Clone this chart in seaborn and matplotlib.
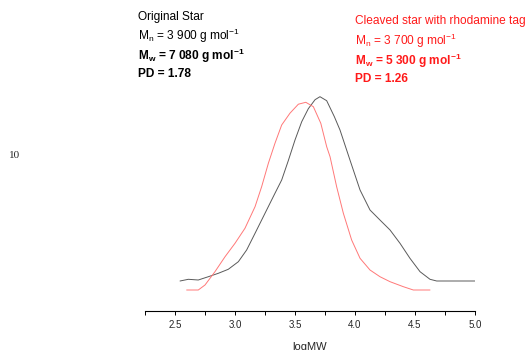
import matplotlib
matplotlib.use("Agg")
import matplotlib.pyplot as plt
import seaborn as sns
import pandas as pd
from matplotlib.ticker import MultipleLocator

# Original star trace (logMW, detector signal)
orig_logmw = [2.542, 2.611, 2.694, 2.778, 2.861, 2.944, 3.028, 3.097, 3.167, 3.25,
              3.333, 3.389, 3.444, 3.5, 3.556, 3.611, 3.667, 3.708, 3.764, 3.828,
              3.875, 3.958, 4.042, 4.125, 4.208, 4.292, 4.375, 4.458, 4.542, 4.625,
              4.681, 5.0]
orig_signal = [29.7, 31.4, 30.7, 34.0, 37.4, 41.4, 49.0, 60.7, 77.4, 97.4,
               117.4, 130.7, 150.0, 170.7, 189.0, 202.0, 211.0, 214.0, 210.0, 194.0,
               180.7, 150.7, 120.7, 100.7, 90.7, 80.7, 67.4, 52.4, 39.0, 31.4,
               29.7, 29.7]

# Cleaved star with rhodamine tag trace
cleav_logmw = [2.597, 2.694, 2.75, 2.833, 2.917, 3.0, 3.083, 3.167, 3.222, 3.278,
               3.333, 3.389, 3.458, 3.528, 3.59, 3.653, 3.715, 3.764, 3.792, 3.847,
               3.903, 3.972, 4.042, 4.125, 4.208, 4.292, 4.403, 4.486, 4.625]
cleav_signal = [20.7, 20.7, 25.7, 39.0, 54.0, 67.4, 82.4, 104.0, 124.0, 147.4,
                167.4, 185.7, 197.5, 206.5, 208.4, 204.0, 187.4, 164.0, 154.0, 124.0,
                97.4, 70.7, 52.4, 40.7, 34.0, 29.0, 24.0, 20.7, 20.7]

x_ticks = [2.5, 3.0, 3.5, 4.0, 4.5, 5.0]
x_tick_labels = ["2.5", "3.0", "3.5", "4.0", "4.5", "5.0"]

sns.set_style("white")
plt.rcParams['font.family'] = ['Liberation Sans', 'DejaVu Sans']
plt.rcParams['mathtext.fontset'] = 'custom'
plt.rcParams['mathtext.rm'] = 'Liberation Sans'
plt.rcParams['mathtext.bf'] = 'Liberation Sans:bold'

W, H = 528, 350
fig = plt.figure(figsize=(W / 100, H / 100), dpi=100)
ax = fig.add_axes([145 / W, (H - 310.7) / H, 330 / W, 310.7 / H])

df_o = pd.DataFrame({"logMW": orig_logmw, "signal": orig_signal})
df_c = pd.DataFrame({"logMW": cleav_logmw, "signal": cleav_signal})
sns.lineplot(data=df_o, x="logMW", y="signal", ax=ax, color="#5a5a5a", lw=0.7,
             sort=False, solid_joinstyle="round")
sns.lineplot(data=df_c, x="logMW", y="signal", ax=ax, color="#ff7878", lw=0.7,
             sort=False, solid_joinstyle="round")

ax.set_xlim(2.25, 5.0)
ax.set_ylim(0, 310.7)
for s in ["left", "top", "right"]:
    ax.spines[s].set_visible(False)
ax.spines["bottom"].set_color("black")
ax.spines["bottom"].set_linewidth(0.8)
ax.set_yticks([])
ax.set_ylabel("")
ax.set_xticks(x_ticks)
ax.set_xticklabels(x_tick_labels, fontsize=7)
ax.xaxis.set_minor_locator(MultipleLocator(0.25))
ax.tick_params(axis="x", which="both", direction="out", length=3, width=0.7,
               bottom=True, color="black", pad=4)
ax.set_xlabel("logMW", fontsize=8, labelpad=8)

def fx(px):
    return px / W

def fy(py):
    return 1 - py / H

fs = 8.6
# Original star annotation
fig.text(fx(138), fy(17), "Original Star", fontsize=fs, va="center", color="black")
fig.text(fx(138), fy(36), r"M$_{\mathregular{n}}$ = 3 900 g mol$^{\mathregular{-1}}$",
         fontsize=fs, va="center", color="black")
fig.text(fx(138), fy(56), r"M$_{\mathregular{w}}$ = 7 080 g mol$^{\mathregular{-1}}$",
         fontsize=fs, va="center", color="black", fontweight="bold")
fig.text(fx(138), fy(74), "PD = 1.78", fontsize=fs, va="center", color="black",
         fontweight="bold")

# Cleaved star annotation
red = "#ff1a1a"
fig.text(fx(355), fy(21), "Cleaved star with rhodamine tag", fontsize=fs, va="center", color=red)
fig.text(fx(355), fy(41), r"M$_{\mathregular{n}}$ = 3 700 g mol$^{\mathregular{-1}}$",
         fontsize=fs, va="center", color=red)
fig.text(fx(355), fy(61), r"M$_{\mathregular{w}}$ = 5 300 g mol$^{\mathregular{-1}}$",
         fontsize=fs, va="center", color=red, fontweight="bold")
fig.text(fx(355), fy(79), "PD = 1.26", fontsize=fs, va="center", color=red,
         fontweight="bold")

fig.text(fx(9), fy(155), "10", fontsize=8, va="center", family=["Liberation Serif"])

fig.savefig("out.png", dpi=100)
